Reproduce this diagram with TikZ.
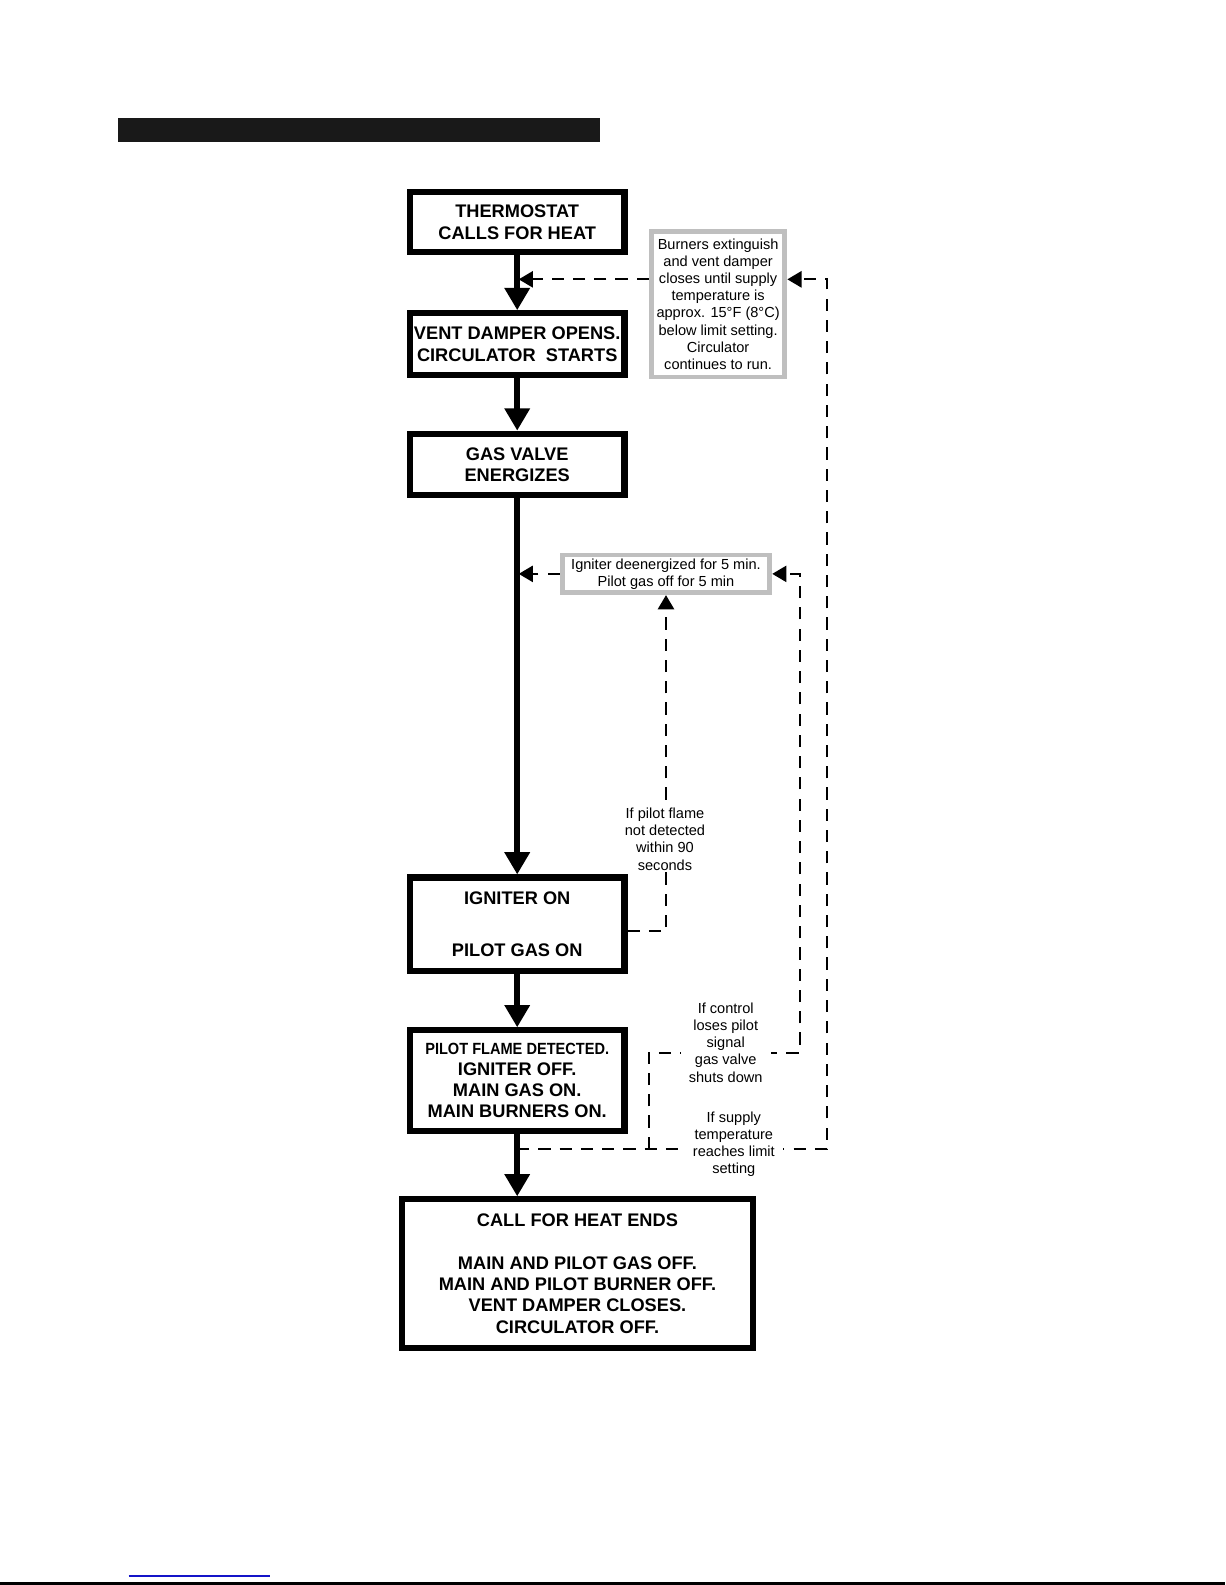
\documentclass[tikz,border=0pt]{standalone}
\usepackage{fontspec}
\setmainfont{Liberation Sans}
\usetikzlibrary{arrows.meta}
\definecolor{linkblue}{RGB}{20,20,200}

\begin{document}
\begin{tikzpicture}[x=0.5pt, y=-0.5pt,
    box/.style={rectangle, draw, line width=3pt, minimum width=106pt, inner sep=1pt, align=center, font=\fontsize{9}{10.5}\selectfont\bfseries},
    note/.style={rectangle, draw=black!25, line width=2.4pt, inner sep=1pt, align=center, font=\fontsize{7.2}{8.5}\selectfont},
    lbl/.style={fill=white, inner xsep=4pt, inner ysep=1pt, align=center, font=\fontsize{7.2}{8.5}\selectfont},
    flow/.style={line width=3pt, -{Triangle[length=11pt,width=12pt]}},
    loopline/.style={line width=1pt, dash pattern=on 6pt off 4.5pt},
    back/.style={loopline, -{Triangle[length=7pt,width=8pt]}},
]
    \useasboundingbox (0,0) rectangle (1210.5,1566);
    % page header bar and footer
    \fill[black!90] (117,117) rectangle (593,140);
    \draw[linkblue, line width=1pt] (127,1557) -- (267,1557);
    \draw[line width=1pt] (0,1564.5) -- (1210.5,1564.5);

    % main sequence
    \node[box, minimum height=29.5pt] (s1) at (511,219.5) {THERMOSTAT\\CALLS FOR HEAT};
    \node[box, minimum height=30.5pt] (s2) at (511,340) {VENT DAMPER OPENS.\\CIRCULATOR~~STARTS};
    \node[box, minimum height=30.5pt] (s3) at (511,459) {GAS VALVE\\ENERGIZES};
    \node[box, minimum height=46pt] (s4) at (511,913) {IGNITER ON\\[15pt]PILOT GAS ON};
    \node[box, minimum height=49.5pt] (s5) at (511,1067.5) {\scalebox{0.9}[1]{\fontsize{8}{10.5}\selectfont PILOT FLAME DETECTED.}\\IGNITER OFF.\\MAIN GAS ON.\\MAIN BURNERS ON.};
    \node[box, minimum width=173.5pt, minimum height=73.5pt] (s6) at (570.5,1258.5) {CALL FOR HEAT ENDS\\[10.5pt]MAIN AND PILOT GAS OFF.\\MAIN AND PILOT BURNER OFF.\\VENT DAMPER CLOSES.\\CIRCULATOR OFF.};

    % side notes
    \node[note, minimum width=66pt, minimum height=72pt] (n1) at (709.5,300.5) {Burners extinguish\\and vent damper\\closes until supply\\temperature is\\approx. 15°F (8°C)\\below limit setting.\\Circulator\\continues to run.};
    \node[note, minimum width=102.6pt, minimum height=18.6pt] (n2) at (658,567) {Igniter deenergized for 5 min.\\Pilot gas off for 5 min};

    \draw[flow] (s1) -- (s2);
    \draw[flow] (s2) -- (s3);
    \draw[flow] (s3) -- (s4);
    \draw[flow] (s4) -- (s5);
    \draw[flow] (s5.south) -- (s5.south |- s6.north);

    % return loops
    \coordinate (j1) at (512.5,276);
    \coordinate (j2) at (511,1135);
    \coordinate (j3) at (512.5,567);
    \coordinate (k1) at (641,1135);
    \coordinate (k2) at (641,1040);
    \coordinate (k3) at (790,1040);
    \coordinate (k4) at (817,276);
    \coordinate (m1) at (657,920);

    \draw[back] (n1.west |- j1) -- (j1);
    \draw[back] (n2.west) -- (j3);
    \draw[back] (j2) -| (k4) -- (n1.east |- k4);
    \draw[back] (k1) -- (k2) -- (k3) |- (n2.east);
    \draw[back] (s4.east |- m1) -| (n2.south);

    \node[lbl] (l1) at (657,829) {If pilot flame\\not detected\\within 90\\seconds};
    \node[lbl] (l2) at (717,1030) {If control\\loses pilot\\signal\\gas valve\\shuts down};
    \node[lbl] (l3) at (725,1130.5) {If supply\\temperature\\reaches limit\\setting};
\end{tikzpicture}
\end{document}
